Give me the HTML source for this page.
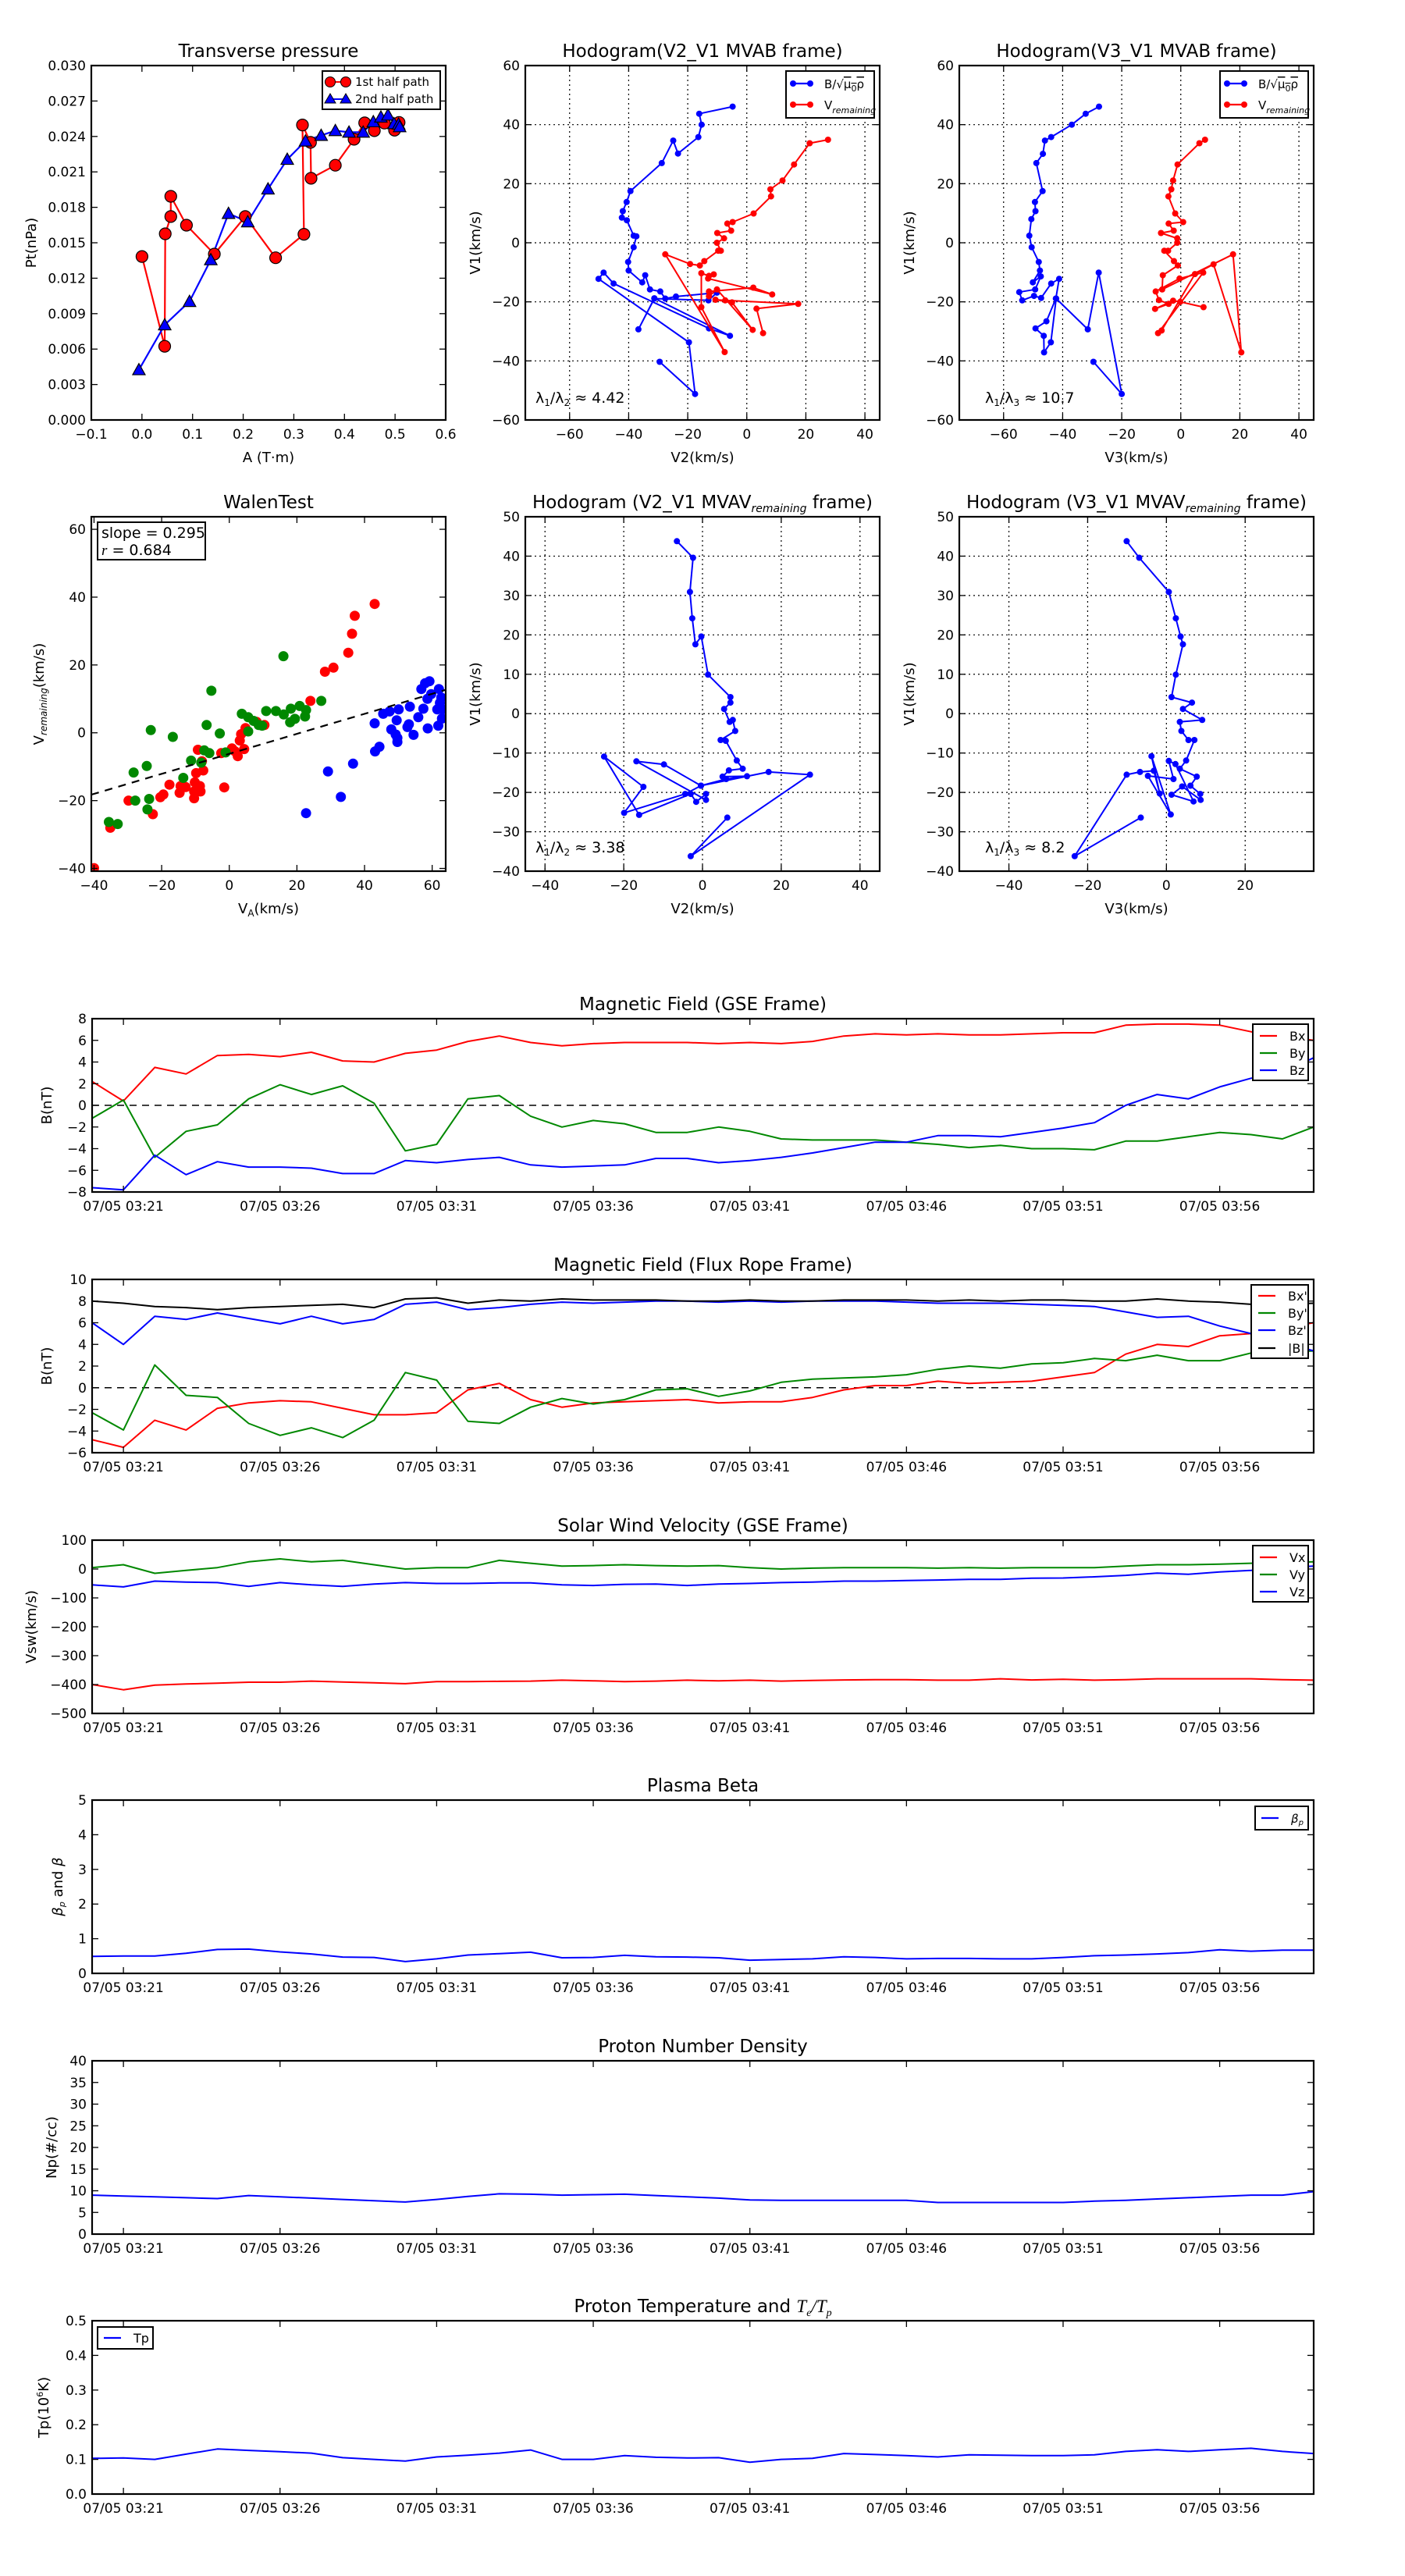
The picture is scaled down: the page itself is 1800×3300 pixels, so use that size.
<!DOCTYPE html>
<html><head><meta charset="utf-8"><title>Flux rope analysis</title>
<style>
html,body{margin:0;padding:0;background:#fff;}
svg{display:block;font-family:"DejaVu Sans","Liberation Sans",sans-serif;}
</style></head>
<body>
<svg id="fig" xmlns="http://www.w3.org/2000/svg" width="1800" height="3300" viewBox="0 0 1800 3300">
<rect x="0" y="0" width="1800" height="3300" fill="#fff"/>
</svg>
<script>
// ---------- Transverse pressure ----------
const tpRedA=[0,0.045,0.046,0.057,0.057,0.088,0.143,0.204,0.264,0.320,0.317,0.333,0.334,0.382,0.419,0.440,0.459,0.479,0.499,0.508];
const tpRedP=[0.01384,0.00624,0.01576,0.01722,0.01893,0.01649,0.01404,0.01722,0.01373,0.01572,0.02497,0.02350,0.02046,0.02156,0.02376,0.02515,0.02449,0.02513,0.02453,0.02519];
const tpBlueA=[-0.006,0.045,0.094,0.136,0.171,0.209,0.249,0.287,0.323,0.354,0.382,0.409,0.437,0.457,0.472,0.486,0.498,0.507,0.509];
const tpBlueP=[0.00425,0.00805,0.01003,0.01356,0.01748,0.01677,0.01955,0.02206,0.02361,0.02409,0.02449,0.02436,0.02436,0.02524,0.02564,0.02581,0.02508,0.02504,0.02482];
const tpXTicks=[-0.1,0,0.1,0.2,0.3,0.4,0.5,0.6];
const tpXLabels=["−0.1","0.0","0.1","0.2","0.3","0.4","0.5","0.6"];
const tpYTicks=[0,0.003,0.006,0.009,0.012,0.015,0.018,0.021,0.024,0.027,0.030];
const tpYLabels=["0.000","0.003","0.006","0.009","0.012","0.015","0.018","0.021","0.024","0.027","0.030"];
// ---------- Hodogram V2_V1 MVAB ----------
const h2bX=[-4.8,-16.1,-15.3,-16.4,-23.3,-24.9,-28.8,-39.4,-40.7,-42.0,-42.3,-40.6,-38.3,-37.4,-38.3,-40.2,-40.0,-35.4,-34.4,-32.8,-29.3,-27.6,-24.0,-10.1,-13.0,-31.3,-36.7,-31.3,-5.7,-12.8,-45.1,-48.5,-50.2,-19.6,-17.5,-29.5];
const h2bY=[46.1,43.7,40,35.8,30.2,34.6,27.0,17.5,13.8,10.7,8.5,7.6,2.4,2.2,-1.5,-6.5,-9.4,-13.4,-11.0,-15.8,-16.5,-18.9,-18.2,-16.9,-19.5,-18.9,-29.3,-18.8,-31.5,-29.0,-13.8,-10.1,-12.2,-33.7,-51.2,-40.3];
const h2rX=[27.5,21.3,16.0,12.1,8.0,8.2,2.3,-4.8,-6.6,-5.3,-10.0,-7.7,-10.1,-8.8,-9.7,-14.4,-15.9,-19.2,-27.6,-7.5,-15.4,-15.4,-12.8,-11.2,-13.1,8.6,2.2,-12.8,-12.8,-10.1,2.0,-5.0,-10.6,-7.3,17.4,3.3,5.5];
const h2rY=[34.9,33.7,26.5,21.1,18.1,15.7,9.9,7.0,6.5,4.1,3.3,1.5,0,-2.7,-2.7,-6.2,-7.7,-7.2,-3.9,-37.0,-21.8,-10.3,-11.2,-10.7,-12.1,-17.5,-15.2,-16.5,-18.1,-15.8,-29.5,-20.2,-19.3,-19.5,-20.7,-22.3,-30.6];
// ---------- Hodogram V3_V1 MVAB ----------
const h3bX=[-27.7,-32.2,-36.9,-43.9,-46.0,-46.7,-48.9,-46.8,-49.4,-49.2,-50.6,-51.3,-50.5,-48.1,-47.7,-50.1,-47.4,-49.3,-54.7,-53.7,-49.7,-47.3,-43.9,-41.2,-42.3,-45.5,-49.2,-46.4,-46.3,-44.0,-42.2,-31.5,-27.8,-20.0,-29.6];
const h3bY=[46.1,43.7,40,35.8,34.6,30.1,27.0,17.5,13.8,10.7,8.0,2.4,-1.5,-6.5,-9.4,-13.4,-11.4,-15.8,-16.7,-19.5,-18.0,-18.7,-13.8,-12.2,-18.9,-26.6,-29.0,-31.5,-37.1,-33.7,-18.9,-29.3,-10.1,-51.2,-40.3];
const h3rX=[8.2,6.3,-1.1,-2.6,-3.2,-4.2,-1.9,0.8,-4.1,-2.4,-6.7,-1.2,-1.2,-4.3,-5.6,-2.3,-1.0,-6.1,-6.3,17.7,20.5,11.1,4.8,-6.5,-7.7,7.6,-0.4,-8.5,-7.4,-4.1,-8.7,-2.6,-0.2,7.7];
const h3rY=[34.9,33.7,26.5,21.1,18.1,15.7,9.9,7.0,6.5,4.1,3.3,1.5,0,-2.7,-2.7,-6.2,-7.7,-11.0,-15.8,-3.9,-37.1,-7.3,-10.6,-29.7,-30.6,-10.1,-12.1,-16.5,-19.4,-20.7,-22.4,-19.6,-20.0,-21.8];
const hXTicks=[-60,-40,-20,0,20,40];
const hXLabels=["−60","−40","−20","0","20","40"];
const hYTicks=[-60,-40,-20,0,20,40,60];
const hYLabels=["−60","−40","−20","0","20","40","60"];
// ---------- Walen test ----------
const wRedX=[-35.2,-40.0,-29.8,-22.6,-20.4,-19.5,-17.7,-14.7,-14.4,-12.9,-10.4,-10.4,-10.2,-9.8,-9.3,-8.7,-8.5,-8.1,-7.7,-2.4,-1.5,0.8,1.6,2.5,3.1,3.5,4.4,4.8,8.1,10.4,24.0,28.3,30.8,35.2,36.3,37.1,43.0];
const wRedY=[-28.0,-39.9,-20.0,-24.0,-19.0,-18.2,-15.3,-17.7,-15.7,-16.0,-19.3,-17.3,-14.6,-11.9,-5.0,-15.7,-17.3,-8.4,-11.1,-6.0,-16.1,-4.6,-5.4,-6.9,-2.3,-0.4,-4.8,1.4,3.2,2.3,9.4,18.0,19.2,23.6,29.2,34.5,38.0];
const wGreenX=[-35.6,-33.0,-28.3,-27.8,-24.2,-23.7,-24.4,-23.2,-16.7,-13.6,-11.3,-8.3,-7.4,-5.9,-6.7,-5.3,-2.8,-1.1,3.7,5.6,5.6,7.2,8.7,9.7,10.9,13.8,16.1,16.0,18.0,18.2,19.4,20.8,22.4,22.7,27.2];
const wGreenY=[-26.3,-26.9,-11.7,-20.0,-22.6,-19.5,-9.8,0.8,-1.2,-13.3,-8.2,-8.8,-5.2,-6.0,2.3,12.4,-0.2,-5.8,5.6,0.4,4.6,3.5,2.3,2.1,6.4,6.4,5.4,22.6,3.1,7.1,4.1,7.9,4.8,6.7,9.4];
const wBlueX=[22.7,29.2,33.0,36.6,43.1,44.4,43.0,45.5,47.4,47.9,49.2,49.5,49.7,49.7,50.1,52.7,53.1,53.4,54.5,55.9,56.8,57.4,57.9,58.7,59.2,58.6,59.7,61.8,61.5,62.0,62.3,62.7,62.9,63.1];
const wBlueY=[-23.7,-11.4,-18.9,-9.1,-5.5,-4.1,2.8,5.6,6.3,1.0,-0.5,3.7,-2.7,-1.5,6.9,1.7,2.5,7.7,-0.6,4.6,12.9,7.1,14.6,1.3,15.2,10.0,11.4,2.1,6.9,12.9,8.8,10.4,4.2,6.9];
const wSlope=[0.295];
const wIntercept=[-6.2];
const wXTicks=[-40,-20,0,20,40,60];
const wXLabels=["−40","−20","0","20","40","60"];
const wYTicks=[-40,-20,0,20,40,60];
const wYLabels=["−40","−20","0","20","40","60"];
// ---------- Hodogram V2_V1 MVAV ----------
const m2X=[-6.5,-2.4,-3.2,-2.6,-1.8,-0.3,1.4,7.1,7.1,5.5,6.9,7.7,8.3,4.6,5.9,8.7,10.2,6.7,5.1,11.3,6.0,-0.4,-4.4,-19.9,-15.0,-25.0,-16.1,-3.0,-1.6,0.9,0.9,-16.8,-9.8,-0.4,16.8,27.3,-3.0,6.3];
const m2Y=[43.8,39.6,30.9,24.2,17.6,19.6,9.9,4.2,2.8,1.2,-2.1,-1.6,-4.4,-6.7,-6.9,-11.9,-14.0,-14.4,-16.0,-15.9,-16.6,-18.3,-20.4,-25.2,-18.6,-10.9,-25.7,-20.4,-22.4,-20.4,-21.9,-12.1,-12.9,-18.3,-14.8,-15.5,-36.2,-26.4];
// ---------- Hodogram V3_V1 MVAV ----------
const m3X=[-10.1,-6.9,0.6,2.4,3.6,4.2,2.4,1.3,6.5,4.2,9.1,3.4,3.8,5.6,7.1,5.0,3.4,7.7,6.1,8.6,8.7,4.0,1.3,6.9,2.3,0.6,1.8,-4.7,1.1,-3.8,-1.7,-3.2,-6.7,-10.1,-23.3,-6.5];
const m3Y=[43.8,39.6,30.9,24.2,19.6,17.6,9.9,4.2,2.8,1.2,-1.6,-2.1,-4.4,-6.7,-6.7,-11.9,-14.0,-16.0,-18.3,-20.4,-21.9,-18.5,-20.6,-22.3,-12.8,-12.0,-16.6,-15.8,-25.6,-10.8,-20.3,-14.5,-14.8,-15.5,-36.2,-26.4];
const mYTicks=[-40,-30,-20,-10,0,10,20,30,40,50];
const mYLabels=["−40","−30","−20","−10","0","10","20","30","40","50"];
const m2XTicks=[-40,-20,0,20,40];
const m2XLabels=["−40","−20","0","20","40"];
const m3XTicks=[-40,-20,0,20];
const m3XLabels=["−40","−20","0","20"];
// ---------- Time series (minutes after 03:20) ----------
const tMinutes=[0,1,2,3,4,5,6,7,8,9,10,11,12,13,14,15,16,17,18,19,20,21,22,23,24,25,26,27,28,29,30,31,32,33,34,35,36,37,38,39];
const tTicks=[1,6,11,16,21,26,31,36];
const tLabels=["07/05 03:21","07/05 03:26","07/05 03:31","07/05 03:36","07/05 03:41","07/05 03:46","07/05 03:51","07/05 03:56"];
const gseBx=[2.2,0.4,3.5,2.9,4.6,4.7,4.5,4.9,4.1,4.0,4.8,5.1,5.9,6.4,5.8,5.5,5.7,5.8,5.8,5.8,5.7,5.8,5.7,5.9,6.4,6.6,6.5,6.6,6.5,6.5,6.6,6.7,6.7,7.4,7.5,7.5,7.4,6.8,6.4,6.0];
const gseBy=[-1.2,0.5,-4.8,-2.4,-1.8,0.6,1.9,1.0,1.8,0.2,-4.2,-3.6,0.6,0.9,-1.0,-2.0,-1.4,-1.7,-2.5,-2.5,-2.0,-2.4,-3.1,-3.2,-3.2,-3.2,-3.4,-3.6,-3.9,-3.7,-4.0,-4.0,-4.1,-3.3,-3.3,-2.9,-2.5,-2.7,-3.1,-2.0];
const gseBz=[-7.6,-7.8,-4.6,-6.4,-5.2,-5.7,-5.7,-5.8,-6.3,-6.3,-5.1,-5.3,-5.0,-4.8,-5.5,-5.7,-5.6,-5.5,-4.9,-4.9,-5.3,-5.1,-4.8,-4.4,-3.9,-3.4,-3.4,-2.8,-2.8,-2.9,-2.5,-2.1,-1.6,0,1.0,0.6,1.7,2.5,3.0,4.4];
const frBx=[-4.8,-5.5,-3.0,-3.9,-1.9,-1.4,-1.2,-1.3,-1.9,-2.5,-2.5,-2.3,-0.2,0.4,-1.1,-1.8,-1.4,-1.3,-1.2,-1.1,-1.4,-1.3,-1.3,-0.9,-0.2,0.2,0.2,0.6,0.4,0.5,0.6,1.0,1.4,3.1,4.0,3.8,4.8,5.0,5.5,6.0];
const frBy=[-2.3,-3.9,2.1,-0.7,-0.9,-3.3,-4.4,-3.7,-4.6,-3.0,1.4,0.7,-3.1,-3.3,-1.8,-1.0,-1.5,-1.1,-0.2,-0.1,-0.8,-0.3,0.5,0.8,0.9,1.0,1.2,1.7,2.0,1.8,2.2,2.3,2.7,2.5,3.0,2.5,2.5,3.2,3.3,3.4];
const frBz=[6.0,4.0,6.6,6.3,6.9,6.4,5.9,6.6,5.9,6.3,7.7,7.9,7.2,7.4,7.7,7.9,7.8,7.9,8.0,8.0,7.9,8.0,7.9,8.0,8.0,8.0,7.9,7.8,7.8,7.8,7.7,7.6,7.5,7.0,6.5,6.6,5.7,5.0,4.2,3.4];
const frBt=[8.0,7.8,7.5,7.4,7.2,7.4,7.5,7.6,7.7,7.4,8.2,8.3,7.8,8.1,8.0,8.2,8.1,8.1,8.1,8.0,8.0,8.1,8.0,8.0,8.1,8.1,8.1,8.0,8.1,8.0,8.1,8.1,8.0,8.0,8.2,8.0,7.9,7.7,7.7,7.8];
const swVx=[-400,-418,-402,-398,-395,-392,-392,-388,-391,-394,-397,-390,-390,-389,-388,-385,-387,-390,-388,-385,-387,-385,-388,-386,-384,-383,-383,-385,-385,-380,-384,-382,-385,-383,-380,-380,-380,-380,-383,-385];
const swVy=[5,15,-15,-5,5,25,35,25,30,15,0,5,5,30,20,10,12,15,12,10,12,5,0,3,5,5,5,3,5,3,5,5,5,10,15,15,17,20,22,25];
const swVz=[-55,-62,-42,-45,-47,-60,-47,-55,-60,-52,-47,-50,-50,-48,-48,-55,-57,-53,-52,-57,-52,-50,-47,-45,-42,-42,-40,-38,-36,-36,-32,-31,-27,-22,-14,-18,-10,-5,5,10];
const betaP=[0.49,0.5,0.5,0.58,0.69,0.7,0.62,0.56,0.47,0.46,0.34,0.42,0.53,0.57,0.61,0.45,0.46,0.52,0.48,0.47,0.45,0.38,0.4,0.42,0.48,0.46,0.42,0.43,0.43,0.42,0.42,0.46,0.51,0.53,0.56,0.6,0.68,0.64,0.67,0.67];
const densNp=[9.0,8.8,8.6,8.4,8.2,8.9,8.6,8.3,8.0,7.7,7.4,8.0,8.7,9.3,9.2,9.0,9.1,9.2,8.9,8.6,8.3,7.9,7.8,7.8,7.8,7.8,7.8,7.3,7.3,7.3,7.3,7.3,7.6,7.8,8.1,8.4,8.7,9.0,9.0,9.8];
const tempTp=[0.103,0.104,0.100,0.115,0.13,0.126,0.122,0.118,0.105,0.100,0.095,0.107,0.112,0.118,0.127,0.1,0.1,0.111,0.106,0.104,0.105,0.092,0.1,0.103,0.117,0.114,0.111,0.107,0.113,0.112,0.111,0.111,0.113,0.123,0.128,0.123,0.128,0.132,0.123,0.117];

const NS='http://www.w3.org/2000/svg';
const svg=document.getElementById('fig');
function mk(tag,parent){const e=document.createElementNS(NS,tag);parent.appendChild(e);return e;}
function txt(parent,x,y,s,size,anchor){
  const t=mk('text',parent);
  t.setAttribute('x',x);t.setAttribute('y',y);
  t.setAttribute('font-size',size);t.setAttribute('text-anchor',anchor||'middle');
  t.setAttribute('fill','#000');
  t.textContent=s;
  return t;
}
function axes(p){
  const g=mk('g',svg);
  
  
  const sx=v=>p.x0+(v-p.xmin)/(p.xmax-p.xmin)*p.w;
  const sy=v=>p.y0+p.h-(v-p.ymin)/(p.ymax-p.ymin)*p.h;
  const bg=mk('rect',g);
  bg.setAttribute('x',p.x0);bg.setAttribute('y',p.y0);bg.setAttribute('width',p.w);bg.setAttribute('height',p.h);bg.setAttribute('fill','#fff');
  
  
  if(p.grid){
    p.xticks.forEach(v=>{const l=mk('line',g);l.setAttribute('x1',sx(v));l.setAttribute('x2',sx(v));l.setAttribute('y1',p.y0);l.setAttribute('y2',p.y0+p.h);l.setAttribute('stroke','#000');l.setAttribute('stroke-width','1.2');l.setAttribute('stroke-dasharray','2,4');
      
      });
    p.yticks.forEach(v=>{const l=mk('line',g);l.setAttribute('y1',sy(v));l.setAttribute('y2',sy(v));l.setAttribute('x1',p.x0);l.setAttribute('x2',p.x0+p.w);l.setAttribute('stroke','#000');l.setAttribute('stroke-width','1.2');l.setAttribute('stroke-dasharray','2,4');
      
      });
  }
  const plot=mk('g',g);
  
  
  const cid='clip'+p.name;
  const cp=mk('clipPath',g);cp.setAttribute('id',cid);
  const cr=mk('rect',cp);cr.setAttribute('x',p.x0);cr.setAttribute('y',p.y0);cr.setAttribute('width',p.w);cr.setAttribute('height',p.h);
  plot.setAttribute('clip-path','url(#'+cid+')');
  const over=mk('g',g);
  
  
  p.xticks.forEach((v,i)=>{
    [[p.y0+p.h,-8],[p.y0,8]].forEach(([yy,d])=>{const l=mk('line',over);l.setAttribute('x1',sx(v));l.setAttribute('x2',sx(v));l.setAttribute('y1',yy);l.setAttribute('y2',yy+d);l.setAttribute('stroke','#000');l.setAttribute('stroke-width','1.3');
      
      });
    const t=txt(over,sx(v),p.y0+p.h+24,p.xlabels[i],p.tickSize||17);
    
    
  });
  p.yticks.forEach((v,i)=>{
    [[p.x0,8],[p.x0+p.w,-8]].forEach(([xx,d])=>{const l=mk('line',over);l.setAttribute('y1',sy(v));l.setAttribute('y2',sy(v));l.setAttribute('x1',xx);l.setAttribute('x2',xx+d);l.setAttribute('stroke','#000');l.setAttribute('stroke-width','1.3');
      
      });
    const t=txt(over,p.x0-7,sy(v)+6,p.ylabels[i],p.tickSize||17,'end');
    
    
  });
  const fr=mk('rect',over);
  fr.setAttribute('x',p.x0);fr.setAttribute('y',p.y0);fr.setAttribute('width',p.w);fr.setAttribute('height',p.h);fr.setAttribute('fill','none');fr.setAttribute('stroke','#000');fr.setAttribute('stroke-width','2.2');
  
  
  if(p.title){const t=txt(over,p.x0+p.w/2,p.y0-11,'',23);t.innerHTML=p.title;
    
    }
  if(p.xlabel){const t=txt(over,p.x0+p.w/2,p.y0+p.h+54,'',18);t.innerHTML=p.xlabel;
    
    }
  if(p.ylabel){const t=txt(over,0,0,'',18);t.innerHTML=p.ylabel;t.setAttribute('transform','translate('+p.ylx+','+(p.y0+p.h/2)+') rotate(-90)');
    
    }
  return {sx,sy,plot,over};
}
function line(ax,xs,ys,color,w,name,dash){
  const pl=mk('polyline',ax.plot);
  pl.setAttribute('points',xs.map((x,i)=>ax.sx(x).toFixed(1)+','+ax.sy(ys[i]).toFixed(1)).join(' '));
  pl.setAttribute('fill','none');pl.setAttribute('stroke',color);pl.setAttribute('stroke-width',w||2);pl.setAttribute('stroke-linejoin','round');
  if(dash)pl.setAttribute('stroke-dasharray',dash);
  
  
  return pl;
}
function dots(ax,xs,ys,color,r,name,edge){
  xs.forEach((x,i)=>{const c=mk('circle',ax.plot);c.setAttribute('cx',ax.sx(x).toFixed(1));c.setAttribute('cy',ax.sy(ys[i]).toFixed(1));c.setAttribute('r',r);c.setAttribute('fill',color);
    if(edge){c.setAttribute('stroke','#000');c.setAttribute('stroke-width','1.2');}
    
    });
}
function tris(ax,xs,ys,color,s,name){
  xs.forEach((x,i)=>{const X=ax.sx(x),Y=ax.sy(ys[i]);const pg=mk('polygon',ax.plot);
    pg.setAttribute('points',X+','+(Y-s)+' '+(X-s)+','+(Y+s*0.8)+' '+(X+s)+','+(Y+s*0.8));
    pg.setAttribute('fill',color);pg.setAttribute('stroke','#000');pg.setAttribute('stroke-width','1.2');
    
    });
}
function legendBox(parent,x,y,w,h,name){
  const g=mk('g',parent);
  
  
  const r=mk('rect',g);r.setAttribute('x',x);r.setAttribute('y',y);r.setAttribute('width',w);r.setAttribute('height',h);r.setAttribute('fill','#fff');r.setAttribute('stroke','#000');r.setAttribute('stroke-width','2');
  
  
  return g;
}
function legLine(g,x,y,color,label,size,marker){
  const l=mk('line',g);l.setAttribute('x1',x);l.setAttribute('x2',x+22);l.setAttribute('y1',y);l.setAttribute('y2',y);l.setAttribute('stroke',color);l.setAttribute('stroke-width','2.2');
  
  
  if(marker){[x,x+22].forEach(cx=>{const c=mk('circle',g);c.setAttribute('cx',cx);c.setAttribute('cy',y);c.setAttribute('r',4);c.setAttribute('fill',color);
    
    });}
  const t=txt(g,x+(marker?40:38),y+6,'',size||16,'start');t.innerHTML=label;
  
  
}
function note(ax,x,y,html,size,name){const t=txt(ax.over,x,y,'',size||19,'start');t.innerHTML=html;
  
  return t;}

// ===== Transverse pressure =====
let a=axes({name:'transverse-pressure-chart',x0:117,y0:84,w:454,h:454,xmin:-0.1,xmax:0.6,ymin:0,ymax:0.03,xticks:tpXTicks,xlabels:tpXLabels,yticks:tpYTicks,ylabels:tpYLabels,title:'Transverse pressure',xlabel:'A (T·m)',ylabel:'Pt(nPa)',ylx:46});
line(a,tpRedA,tpRedP,'#f00',2.2,'first-half-path-line');
line(a,tpBlueA,tpBlueP,'#00f',2.2,'second-half-path-line');
dots(a,tpRedA,tpRedP,'#f00',7.5,'first-half-point',true);
tris(a,tpBlueA,tpBlueP,'#00f',8,'second-half-point');
{const g=legendBox(a.over,413,91,151,49,'pressure-legend');
 [[105,'#f00','1st half path',0],[127,'#00f','2nd half path',1]].forEach(([yy,c,lab,tr])=>{
   const l=mk('line',g);l.setAttribute('x1',423);l.setAttribute('x2',443);l.setAttribute('y1',yy);l.setAttribute('y2',yy);l.setAttribute('stroke',c);l.setAttribute('stroke-width','2');
   
   
   [423,443].forEach(cx=>{let m;if(tr){m=mk('polygon',g);m.setAttribute('points',cx+','+(yy-7)+' '+(cx-7)+','+(yy+5)+' '+(cx+7)+','+(yy+5));}else{m=mk('circle',g);m.setAttribute('cx',cx);m.setAttribute('cy',yy);m.setAttribute('r',6.5);}
     m.setAttribute('fill',c);m.setAttribute('stroke','#000');
     
     });
   const t=txt(g,455,yy+5,lab,15,'start');
   
   });}

// ===== Hodogram V2_V1 MVAB =====
const legB='B/√<tspan text-decoration="overline">μ<tspan font-size="11" dy="4">0</tspan><tspan dy="-4">ρ</tspan></tspan>';
const legV='V<tspan font-size="11" dy="5" font-style="italic">remaining</tspan>';
a=axes({name:'hodogram-v2-v1-mvab',x0:673,y0:84,w:454,h:454,xmin:-75,xmax:45,ymin:-60,ymax:60,xticks:hXTicks,xlabels:hXLabels,yticks:hYTicks,ylabels:hYLabels,grid:true,title:'Hodogram(V2_V1 MVAB frame)',xlabel:'V2(km/s)',ylabel:'V1(km/s)',ylx:615});
line(a,h2bX,h2bY,'#00f',2,'b-hodogram-line');dots(a,h2bX,h2bY,'#00f',4,'b-hodogram-point');
line(a,h2rX,h2rY,'#f00',2,'v-hodogram-line');dots(a,h2rX,h2rY,'#f00',4,'v-hodogram-point');
{const g=legendBox(a.over,1007,91,113,60,'hodogram-legend');legLine(g,1016,107,'#00f',legB,15,true);legLine(g,1016,134,'#f00',legV,15,true);}
note(a,686,516,'λ<tspan font-size="12" dy="4">1</tspan><tspan dy="-4">/λ</tspan><tspan font-size="12" dy="4">2</tspan><tspan dy="-4"> ≈ 4.42</tspan>',19,'eigenvalue-ratio');

// ===== Hodogram V3_V1 MVAB =====
a=axes({name:'hodogram-v3-v1-mvab',x0:1229,y0:84,w:454,h:454,xmin:-75,xmax:45,ymin:-60,ymax:60,xticks:hXTicks,xlabels:hXLabels,yticks:hYTicks,ylabels:hYLabels,grid:true,title:'Hodogram(V3_V1 MVAB frame)',xlabel:'V3(km/s)',ylabel:'V1(km/s)',ylx:1171});
line(a,h3bX,h3bY,'#00f',2,'b-hodogram-line');dots(a,h3bX,h3bY,'#00f',4,'b-hodogram-point');
line(a,h3rX,h3rY,'#f00',2,'v-hodogram-line');dots(a,h3rX,h3rY,'#f00',4,'v-hodogram-point');
{const g=legendBox(a.over,1563,91,113,60,'hodogram-legend');legLine(g,1572,107,'#00f',legB,15,true);legLine(g,1572,134,'#f00',legV,15,true);}
note(a,1262,516,'λ<tspan font-size="12" dy="4">1</tspan><tspan dy="-4">/λ</tspan><tspan font-size="12" dy="4">3</tspan><tspan dy="-4"> ≈ 10.7</tspan>',19,'eigenvalue-ratio');

// ===== Walen test =====
a=axes({name:'walen-test-chart',x0:117,y0:662,w:454,h:454,xmin:-40.8,xmax:64,ymin:-40.8,ymax:63.7,xticks:wXTicks,xlabels:wXLabels,yticks:wYTicks,ylabels:wYLabels,title:'WalenTest',xlabel:'V<tspan font-size="12" dy="4">A</tspan><tspan dy="-4">(km/s)</tspan>',ylabel:'V<tspan font-size="12" dy="4" font-style="italic">remaining</tspan><tspan dy="-4">(km/s)</tspan>',ylx:56});
dots(a,wRedX,wRedY,'#f00',6.5,'walen-point-red');
dots(a,wGreenX,wGreenY,'#080',6.5,'walen-point-green');
dots(a,wBlueX,wBlueY,'#00f',6.5,'walen-point-blue');
{const fx=[-40.8,64];line(a,fx,fx.map(v=>wSlope[0]*v+wIntercept[0]),'#000',2.2,'walen-fit-line','10,8');}
{const g=legendBox(a.over,125,669,138,48,'walen-stats-box');
 let t=txt(g,130,689,'slope = 0.295',19,'start');
 
 t=txt(g,130,711,'',19,'start');t.innerHTML='<tspan font-style="italic" font-family="Liberation Serif,serif">r</tspan> = 0.684';
 }

// ===== Hodogram V2_V1 MVAV =====
a=axes({name:'hodogram-v2-v1-mvav',x0:673,y0:662,w:454,h:454,xmin:-45,xmax:45,ymin:-40,ymax:50,xticks:m2XTicks,xlabels:m2XLabels,yticks:mYTicks,ylabels:mYLabels,grid:true,title:'Hodogram (V2_V1 MVAV<tspan font-size="14" dy="5" font-style="italic">remaining</tspan><tspan dy="-5"> frame)</tspan>',xlabel:'V2(km/s)',ylabel:'V1(km/s)',ylx:615});
line(a,m2X,m2Y,'#00f',2,'hodogram-line');dots(a,m2X,m2Y,'#00f',4,'hodogram-point');
note(a,686,1092,'λ<tspan font-size="12" dy="4">1</tspan><tspan dy="-4">/λ</tspan><tspan font-size="12" dy="4">2</tspan><tspan dy="-4"> ≈ 3.38</tspan>',19,'eigenvalue-ratio');

// ===== Hodogram V3_V1 MVAV =====
a=axes({name:'hodogram-v3-v1-mvav',x0:1229,y0:662,w:454,h:454,xmin:-52.6,xmax:37.4,ymin:-40,ymax:50,xticks:m3XTicks,xlabels:m3XLabels,yticks:mYTicks,ylabels:mYLabels,grid:true,title:'Hodogram (V3_V1 MVAV<tspan font-size="14" dy="5" font-style="italic">remaining</tspan><tspan dy="-5"> frame)</tspan>',xlabel:'V3(km/s)',ylabel:'V1(km/s)',ylx:1171});
line(a,m3X,m3Y,'#00f',2,'hodogram-line');dots(a,m3X,m3Y,'#00f',4,'hodogram-point');
note(a,1262,1092,'λ<tspan font-size="12" dy="4">1</tspan><tspan dy="-4">/λ</tspan><tspan font-size="12" dy="4">3</tspan><tspan dy="-4"> ≈ 8.2</tspan>',19,'eigenvalue-ratio');

// ===== Time series =====
function ts(name,y0,ymin,ymax,yt,yl,title,ylabel,ylx){
  return axes({name:name,x0:118,y0:y0,w:1565,h:222,xmin:0,xmax:39,ymin:ymin,ymax:ymax,xticks:tTicks,xlabels:tLabels,yticks:yt,ylabels:yl,title:title,ylabel:ylabel,ylx:ylx});
}
function zero(ax,name){line(ax,[0,39],[0,0],'#000',1.5,name,'9,7');}
a=ts('gse-magnetic-field-chart',1305,-8,8,[-8,-6,-4,-2,0,2,4,6,8],["−8","−6","−4","−2","0","2","4","6","8"],'Magnetic Field (GSE Frame)','B(nT)',66);
zero(a,'zero-line');
line(a,tMinutes,gseBx,'#f00',2,'bx-line');line(a,tMinutes,gseBy,'#080',2,'by-line');line(a,tMinutes,gseBz,'#00f',2,'bz-line');
{const g=legendBox(a.over,1605,1312,71,72,'gse-field-legend');legLine(g,1614,1327,'#f00','Bx');legLine(g,1614,1349,'#080','By');legLine(g,1614,1371,'#00f','Bz');}

a=ts('flux-rope-magnetic-field-chart',1639,-6,10,[-6,-4,-2,0,2,4,6,8,10],["−6","−4","−2","0","2","4","6","8","10"],'Magnetic Field (Flux Rope Frame)','B(nT)',66);
zero(a,'zero-line');
line(a,tMinutes,frBx,'#f00',2,'bx-prime-line');line(a,tMinutes,frBy,'#080',2,'by-prime-line');line(a,tMinutes,frBz,'#00f',2,'bz-prime-line');line(a,tMinutes,frBt,'#000',2,'b-magnitude-line');
{const g=legendBox(a.over,1603,1646,73,94,'flux-rope-legend');legLine(g,1612,1660,'#f00',"Bx'");legLine(g,1612,1682,'#080',"By'");legLine(g,1612,1704,'#00f',"Bz'");legLine(g,1612,1727,'#000','|B|');}

a=ts('solar-wind-velocity-chart',1973,-500,100,[-500,-400,-300,-200,-100,0,100],["−500","−400","−300","−200","−100","0","100"],'Solar Wind Velocity (GSE Frame)','Vsw(km/s)',46);
line(a,tMinutes,swVx,'#f00',2,'vx-line');line(a,tMinutes,swVy,'#080',2,'vy-line');line(a,tMinutes,swVz,'#00f',2,'vz-line');
{const g=legendBox(a.over,1605,1980,71,72,'velocity-legend');legLine(g,1614,1995,'#f00','Vx');legLine(g,1614,2017,'#080','Vy');legLine(g,1614,2039,'#00f','Vz');}

a=ts('plasma-beta-chart',2306,0,5,[0,1,2,3,4,5],["0","1","2","3","4","5"],'Plasma Beta','<tspan font-style="italic">β<tspan font-size="11" dy="3">p</tspan></tspan><tspan dy="-3"> and </tspan><tspan font-style="italic">β</tspan>',80);
line(a,tMinutes,betaP,'#00f',2,'beta-line');
{const g=legendBox(a.over,1608,2314,68,30,'beta-legend');legLine(g,1616,2329,'#00f','<tspan font-style="italic">β<tspan font-size="10" dy="3">p</tspan></tspan>',15);}

a=ts('proton-density-chart',2640,0,40,[0,5,10,15,20,25,30,35,40],["0","5","10","15","20","25","30","35","40"],'Proton Number Density','Np(#/cc)',72);
line(a,tMinutes,densNp,'#00f',2,'density-line');

a=ts('proton-temperature-chart',2973,0,0.5,[0,0.1,0.2,0.3,0.4,0.5],["0.0","0.1","0.2","0.3","0.4","0.5"],'Proton Temperature and <tspan font-style="italic" font-family="Liberation Serif,serif">T<tspan font-size="14" dy="5">e</tspan><tspan dy="-5">/T</tspan><tspan font-size="14" dy="5">p</tspan></tspan>','Tp(10<tspan font-size="11" dy="-7">6</tspan><tspan dy="7">K)</tspan>',62);
line(a,tMinutes,tempTp,'#00f',2,'temperature-line');
{const g=legendBox(a.over,125,2981,71,28,'temperature-legend');legLine(g,133,2995,'#00f','Tp',16);}
</script>
</body></html>
